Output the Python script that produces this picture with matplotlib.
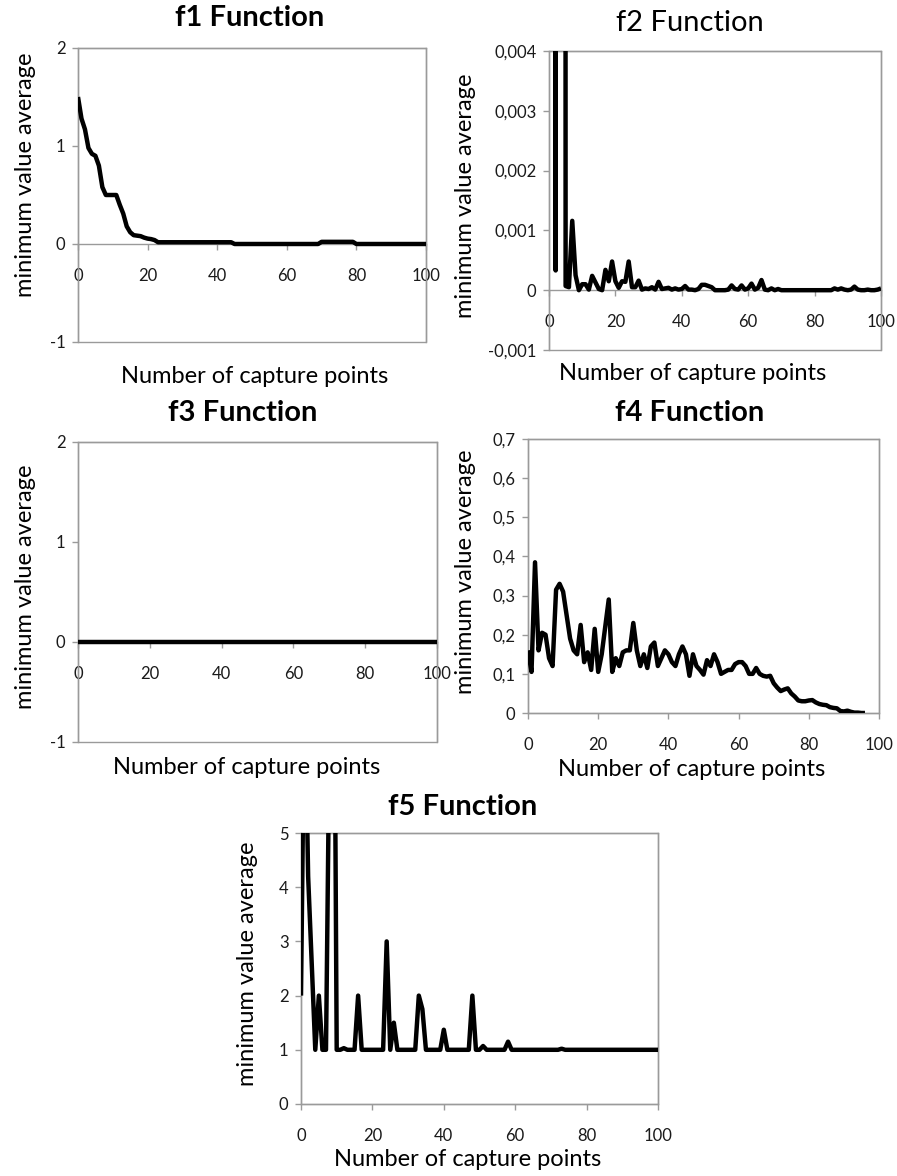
import matplotlib
matplotlib.use("Agg")
import matplotlib.pyplot as plt
from matplotlib.patches import Rectangle

plt.rcParams['font.family'] = ['Lato', 'DejaVu Sans']

W, H = 897, 1176
FRAME = '#9a9a9a'
TXT = '#1a1a1a'

# ---- data ----
x_ticks = [0, 20, 40, 60, 80, 100]

x_f1 = list(range(0, 101))
f1_values = [
    1.50, 1.28, 1.17, 0.98, 0.92, 0.90, 0.80, 0.58, 0.50, 0.50,
    0.50, 0.50, 0.40, 0.31, 0.18, 0.12, 0.09, 0.085, 0.08, 0.065,
    0.055, 0.05, 0.04, 0.018, 0.018, 0.018, 0.018, 0.018, 0.018, 0.018,
    0.018, 0.018, 0.018, 0.018, 0.018, 0.018, 0.018, 0.018, 0.018, 0.018,
    0.018, 0.018, 0.018, 0.018, 0.018, 0.0, 0.0, 0.0, 0.0, 0.0,
    0.0, 0.0, 0.0, 0.0, 0.0, 0.0, 0.0, 0.0, 0.0, 0.0,
    0.0, 0.0, 0.0, 0.0, 0.0, 0.0, 0.0, 0.0, 0.0, 0.0,
    0.022, 0.022, 0.022, 0.022, 0.022, 0.022, 0.022, 0.022, 0.022, 0.022,
    0.0, 0.0, 0.0, 0.0, 0.0, 0.0, 0.0, 0.0, 0.0, 0.0,
    0.0, 0.0, 0.0, 0.0, 0.0, 0.0, 0.0, 0.0, 0.0, 0.0,
    0.0,
]
f1_yticks = [-1, 0, 1, 2]
f1_ylabels = ['-1', '0', '1', '2']

x_f2 = list(range(0, 101))
f2_values = [
    0.25, 0.25, 0.00033, 0.25, 0.25, 0.00007, 0.00005, 0.00116, 0.00025, 0.0,
    0.0001, 0.0001, 0.00001, 0.00024, 0.00013, 0.00002, 0.0, 0.00034, 0.00015, 0.00048,
    0.00015, 0.00004, 0.00015, 0.00014, 0.00048, 0.00005, 0.00005, 0.00016, 0.00001, 0.00003,
    0.00002, 0.00005, 0.00001, 0.00014, 0.00002, 0.00003, 0.00004, 0.00001, 0.00003, 0.00001,
    0.00002, 0.00007, 0.00001, 0.00001, 0.0, 0.00002, 0.00009, 0.00009, 0.00007, 0.00005,
    0.0, 0.0, 0.0, 0.0, 0.00001, 0.00008, 0.00002, 0.00001, 0.00008, 0.00001,
    0.00003, 0.00011, 0.00001, 0.00004, 0.00017, 0.00001, 0.0, 0.00003, 0.0, 0.00002,
    0.0, 0.0, 0.0, 0.0, 0.0, 0.0, 0.0, 0.0, 0.0, 0.0,
    0.0, 0.0, 0.0, 0.0, 0.0, 0.0, 0.00003, 0.00001, 0.00003, 0.00001,
    0.0, 0.00001, 0.00006, 0.00001, 0.0, 0.0, 0.00001, 0.0, 0.0, 0.00001,
    0.00003,
]
f2_yticks = [-0.001, 0, 0.001, 0.002, 0.003, 0.004]
f2_ylabels = ['-0,001', '0', '0,001', '0,002', '0,003', '0,004']

x_f3 = list(range(0, 101))
f3_values = [0.0] * 101
f3_yticks = [-1, 0, 1, 2]
f3_ylabels = ['-1', '0', '1', '2']

x_f4 = list(range(0, 97))
f4_values = [
    0.16, 0.105, 0.385, 0.16, 0.205, 0.2, 0.14, 0.12, 0.315, 0.33,
    0.31, 0.25, 0.19, 0.16, 0.15, 0.225, 0.13, 0.155, 0.11, 0.215,
    0.105, 0.15, 0.22, 0.29, 0.105, 0.14, 0.12, 0.155, 0.16, 0.16,
    0.23, 0.16, 0.12, 0.15, 0.115, 0.17, 0.18, 0.12, 0.14, 0.16,
    0.15, 0.13, 0.12, 0.15, 0.17, 0.15, 0.095, 0.15, 0.12, 0.11,
    0.098, 0.135, 0.12, 0.15, 0.13, 0.1, 0.105, 0.11, 0.11, 0.125,
    0.13, 0.13, 0.12, 0.10, 0.10, 0.115, 0.10, 0.095, 0.093, 0.095,
    0.076, 0.065, 0.056, 0.06, 0.063, 0.05, 0.042, 0.032, 0.03, 0.03,
    0.032, 0.033, 0.027, 0.023, 0.021, 0.02, 0.015, 0.013, 0.012, 0.005,
    0.004, 0.006, 0.003, 0.001, 0.001, 0.0, 0.0,
]
f4_yticks = [0, 0.1, 0.2, 0.3, 0.4, 0.5, 0.6, 0.7]
f4_ylabels = ['0', '0,1', '0,2', '0,3', '0,4', '0,5', '0,6', '0,7']

x_f5 = list(range(0, 101))
f5_values = [
    2.0, 8.0, 4.2, 2.6, 1.0, 2.0, 1.0, 1.0, 7.0, 12.0,
    1.0, 1.0, 1.03, 1.0, 1.0, 1.0, 2.0, 1.0, 1.0, 1.0,
    1.0, 1.0, 1.0, 1.0, 3.0, 1.0, 1.5, 1.0, 1.0, 1.0,
    1.0, 1.0, 1.0, 2.0, 1.75, 1.0, 1.0, 1.0, 1.0, 1.0,
    1.37, 1.0, 1.0, 1.0, 1.0, 1.0, 1.0, 1.0, 2.0, 1.0,
    1.0, 1.07, 1.0, 1.0, 1.0, 1.0, 1.0, 1.0, 1.15, 1.0,
    1.0, 1.0, 1.0, 1.0, 1.0, 1.0, 1.0, 1.0, 1.0, 1.0,
    1.0, 1.0, 1.0, 1.02, 1.0, 1.0, 1.0, 1.0, 1.0, 1.0,
    1.0, 1.0, 1.0, 1.0, 1.0, 1.0, 1.0, 1.0, 1.0, 1.0,
    1.0, 1.0, 1.0, 1.0, 1.0, 1.0, 1.0, 1.0, 1.0, 1.0,
    1.0,
]
f5_yticks = [0, 1, 2, 3, 4, 5]
f5_ylabels = ['0', '1', '2', '3', '4', '5']

XLABEL = 'Number of capture points'
YLABEL = 'minimum value average'


def rect(l, t, r, b):
    # pixel box -> figure fraction
    return [l / W, 1 - b / H, (r - l) / W, (b - t) / H]


def ftext(x, y, s, **kw):
    fig.text(x / W, 1 - y / H, s, ha='center', va='center', color='black', **kw)


def panel(box, x, y, ylim, yticks, ylabels, title, bold, title_xy, xl_xy, yl_xy):
    ax = fig.add_axes(rect(*box))
    ax.plot(x, y, color='black', lw=3.2, solid_joinstyle='round',
            solid_capstyle='butt', zorder=4)
    ax.set_xlim(0, 100)
    ax.set_ylim(*ylim)
    for s in ax.spines.values():
        s.set_color(FRAME)
        s.set_linewidth(1)
    ax.spines['bottom'].set_position(('data', 0))
    ax.add_patch(Rectangle((0, 0), 1, 1, transform=ax.transAxes, fill=False,
                           ec=FRAME, lw=1, clip_on=False, zorder=0))
    ax.set_xticks(x_ticks)
    ax.set_xticklabels([str(t) for t in x_ticks])
    ax.set_yticks(yticks)
    ax.set_yticklabels(ylabels)
    ax.tick_params(axis='both', direction='out', color=FRAME, length=4,
                   width=1, labelsize=12, labelcolor=TXT)
    ax.tick_params(axis='x', pad=13)
    ax.tick_params(axis='y', pad=5)
    ftext(*title_xy, title, fontsize=21, fontweight='bold' if bold else 'normal')
    ftext(*xl_xy, XLABEL, fontsize=17)
    ftext(*yl_xy, YLABEL, fontsize=17, rotation=90)
    return ax


fig = plt.figure(figsize=(W / 100, H / 100), dpi=100)

panel((78, 48, 426, 342), x_f1, f1_values, (-1, 2), f1_yticks, f1_ylabels,
      'f1 Function', True, (250, 18), (255, 377), (25, 175))
panel((549, 51, 881, 350), x_f2, f2_values, (-0.001, 0.004), f2_yticks, f2_ylabels,
      'f2 Function', False, (690, 23), (693, 373), (465, 196))
panel((78, 442, 437, 742), x_f3, f3_values, (-1, 2), f3_yticks, f3_ylabels,
      'f3 Function', True, (243, 413), (247, 768), (25, 587))
panel((528, 439, 879, 713), x_f4, f4_values, (0, 0.7), f4_yticks, f4_ylabels,
      'f4 Function', True, (690, 413), (692, 770), (465, 572))
panel((301, 833, 658, 1104), x_f5, f5_values, (0, 5), f5_yticks, f5_ylabels,
      'f5 Function', True, (463, 807), (468, 1160), (247, 964))

fig.savefig('out.png', dpi=100)
